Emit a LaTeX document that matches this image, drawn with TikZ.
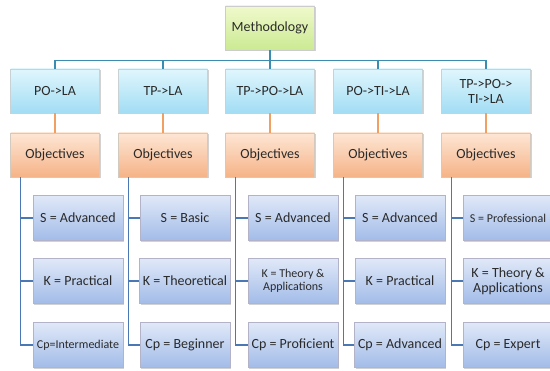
\documentclass[tikz,border=0pt]{standalone}
\usepackage{fontspec}
\setmainfont{Carlito}
\usepackage{tikz}
\usetikzlibrary{calc,shadows}

\definecolor{txt}{HTML}{2A2A2A}
\definecolor{busblue}{HTML}{3A8DB0}
\definecolor{orangeln}{HTML}{EFA062}
\definecolor{treeblue}{HTML}{4A78B4}
\definecolor{rootT}{HTML}{F0F9CC}
\definecolor{rootB}{HTML}{CBEA92}
\definecolor{pathT}{HTML}{E0F6FD}
\definecolor{pathB}{HTML}{A2DDF4}
\definecolor{goalT}{HTML}{FDE6D5}
\definecolor{goalB}{HTML}{F6B387}
\definecolor{levT}{HTML}{E0E9F8}
\definecolor{levB}{HTML}{A2BCE8}

\begin{document}
\begin{tikzpicture}[x=1pt,y=-1pt,
    box/.style={
      draw=black!25,
      minimum width=89pt,
      minimum height=44pt,
      align=center,
      text=txt,
      font=\fontsize{14}{15}\selectfont,
      drop shadow={opacity=0.35,shadow xshift=1pt,shadow yshift=-1.5pt}
    }]
\tikzset{root/.style = {box,top color=rootT,bottom color=rootB,draw=black!20}}
\tikzset{path/.style = {box,top color=pathT,bottom color=pathB,draw=cyan!25!black!25}}
\tikzset{goal/.style = {box,top color=goalT,bottom color=goalB,draw=orange!30!black!25}}
\tikzset{level/.style = {box,minimum width=90pt,minimum height=45pt,top color=levT,bottom color=levB,draw=blue!30!black!30}}
\tikzset{bus/.style = {busblue,line width=1.2pt}}
\tikzset{link/.style = {orangeln,line width=1.2pt}}
\tikzset{tree/.style = {treeblue,line width=1.1pt}}
\useasboundingbox (0,0) rectangle (550,371);
\clip (0,0) rectangle (550,371);
\fill[white] (0,0) rectangle (550,371);
\node[root] (m) at (270,28) {Methodology};
\node[path] (p1) at (55,91) {PO->LA};
\node[path] (p2) at (163,91) {TP->LA};
\node[path] (p3) at (270,91) {TP->PO->LA};
\node[path] (p4) at (378,91) {PO->TI->LA};
\node[path] (p5) at (486,91) {TP->PO->\\TI->LA};
\node[goal] (o1) at (55,155) {Objectives};
\node[goal] (o2) at (163,155) {Objectives};
\node[goal] (o3) at (270,155) {Objectives};
\node[goal] (o4) at (378,155) {Objectives};
\node[goal] (o5) at (486,155) {Objectives};
% skills, knowledge, competence
\node[level] (s1) at (78,218) {S = Advanced};
\node[level] (k1) at (78,281) {K = Practical};
\node[level,font=\fontsize{12}{13}\selectfont] (c1) at (78,345) {Cp=Intermediate};
\node[level] (s2) at (185,218) {S = Basic};
\node[level] (k2) at (185,281) {K = Theoretical};
\node[level] (c2) at (185,345) {Cp = Beginner};
\node[level] (s3) at (293,218) {S = Advanced};
\node[level,font=\fontsize{12}{13.5}\selectfont] (k3) at (293,281) {K = Theory \&\\Applications};
\node[level] (c3) at (293,345) {Cp = Proficient};
\node[level] (s4) at (400,218) {S = Advanced};
\node[level] (k4) at (400,281) {K = Practical};
\node[level] (c4) at (400,345) {Cp = Advanced};
\node[level,font=\fontsize{12}{13}\selectfont] (s5) at (508,218) {S = Professional};
\node[level] (k5) at (508,281) {K = Theory \&\\Applications};
\node[level] (c5) at (508,345) {Cp = Expert};
\draw[bus] (m.south) -- ++(0,10) -| (p1.north);
\draw[bus] (m.south) -- ++(0,10) -| (p2.north);
\draw[bus] (m.south) -- (p3.north);
\draw[bus] (m.south) -- ++(0,10) -| (p4.north);
\draw[bus] (m.south) -- ++(0,10) -| (p5.north);
\draw[link] (p1) -- (o1);
\draw[link] (p2) -- (o2);
\draw[link] (p3) -- (o3);
\draw[link] (p4) -- (o4);
\draw[link] (p5) -- (o5);
\draw[tree] ($(o1.south west)+(10,0)$) |- (c1.west);
\draw[tree] ($(o1.south west)+(10,0)$) |- (s1.west);
\draw[tree] ($(o1.south west)+(10,0)$) |- (k1.west);
\draw[tree] ($(o2.south west)+(10,0)$) |- (c2.west);
\draw[tree] ($(o2.south west)+(10,0)$) |- (s2.west);
\draw[tree] ($(o2.south west)+(10,0)$) |- (k2.west);
\draw[tree] ($(o3.south west)+(10,0)$) |- (c3.west);
\draw[tree] ($(o3.south west)+(10,0)$) |- (s3.west);
\draw[tree] ($(o3.south west)+(10,0)$) |- (k3.west);
\draw[tree] ($(o4.south west)+(10,0)$) |- (c4.west);
\draw[tree] ($(o4.south west)+(10,0)$) |- (s4.west);
\draw[tree] ($(o4.south west)+(10,0)$) |- (k4.west);
\draw[tree] ($(o5.south west)+(10,0)$) |- (c5.west);
\draw[tree] ($(o5.south west)+(10,0)$) |- (s5.west);
\draw[tree] ($(o5.south west)+(10,0)$) |- (k5.west);
\end{tikzpicture}
\end{document}
